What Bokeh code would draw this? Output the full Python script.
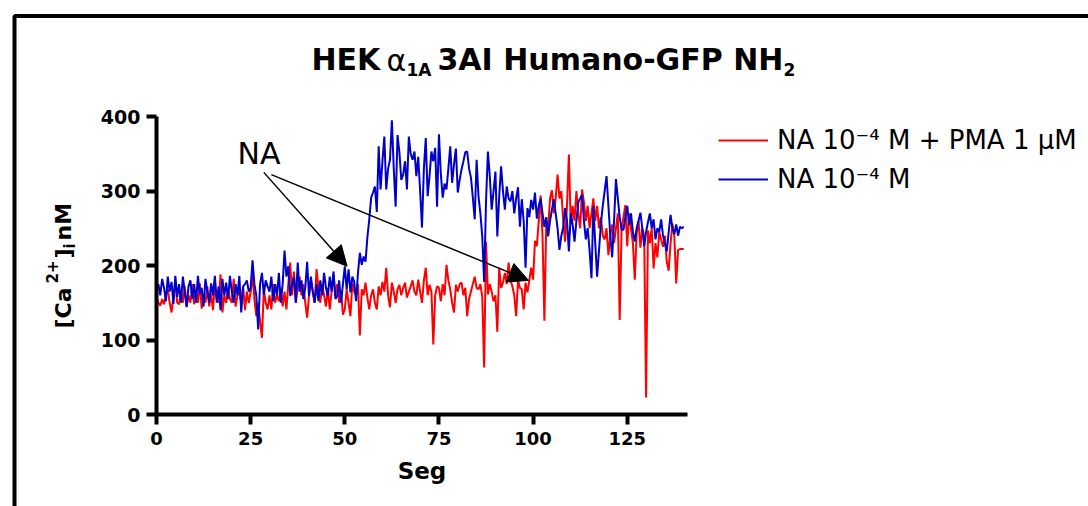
import numpy as np
from bokeh.plotting import figure
from bokeh.models import (Range1d, Label, Legend, LegendItem, Arrow, NormalHead,
                          BoxAnnotation, FixedTicker, ColumnDataSource)
from bokeh.embed import file_html
from bokeh.resources import INLINE

# ---------------- data ----------------
seg = [i * 0.5 for i in range(281)]  # 0 .. 140 s

na_pma = [  # NA 10^-4 M + PMA 1 uM (red)
    158,150,146,155,148,160,168,150,137,160,178,150,148,165,150,172,145,160,150,175,
    148,165,150,176,142,160,150,172,145,162,140,178,155,150,188,137,160,150,170,155,
    150,182,145,160,165,150,172,140,165,150,164,188,155,132,150,125,103,168,150,141,
    160,141,175,150,160,152,170,145,165,141,175,204,160,192,150,170,185,160,175,150,
    130,160,178,165,150,195,170,150,175,160,145,170,141,165,188,160,175,150,165,134,
    141,168,150,132,177,165,160,175,106,168,160,177,157,141,160,168,150,141,172,160,
    178,165,197,160,144,177,165,150,168,174,160,170,177,157,165,172,180,165,160,181,
    165,150,180,197,160,174,165,94,160,172,170,152,175,160,201,180,168,150,137,174,
    165,175,177,160,170,132,155,165,175,185,170,168,175,158,63,232,161,175,165,152,
    160,111,197,170,177,190,175,204,180,172,160,132,181,170,168,141,177,164,180,197,
    181,233,226,260,294,240,126,259,250,290,301,270,290,322,290,300,260,232,280,349,
    255,280,260,300,270,250,302,285,260,280,250,270,290,260,280,250,265,240,235,250,
    214,240,255,230,250,270,127,250,265,281,226,270,250,230,181,243,260,224,250,240,
    23,247,230,250,196,230,211,245,235,225,240,205,193,230,256,240,176,221,222,222,222,
]

na_only = [  # NA 10^-4 M (blue)
    168,175,160,182,170,152,185,165,178,148,186,158,175,150,185,165,144,172,180,155,
    175,150,186,162,170,145,182,165,150,176,160,186,150,172,140,182,160,177,155,186,
    165,150,175,160,186,137,172,175,180,165,170,207,175,160,114,175,190,161,180,172,
    165,185,152,175,160,190,150,175,220,185,199,159,175,185,150,204,165,180,155,170,
    205,159,185,165,150,175,152,180,160,190,170,159,185,165,192,155,159,180,150,175,
    199,168,195,164,185,178,152,190,217,201,212,205,238,262,291,298,306,272,360,302,
    340,373,302,330,342,395,330,279,375,352,315,322,340,302,373,350,342,353,320,346,
    300,251,330,371,293,320,353,340,358,279,376,323,291,310,302,330,360,311,336,357,
    298,315,329,340,352,353,330,318,291,262,342,293,270,239,178,286,353,320,275,300,
    326,239,293,333,300,275,306,290,286,300,270,290,305,252,289,260,197,277,265,288,
    275,298,263,280,290,270,252,265,239,260,275,289,270,250,221,240,251,277,260,219,
    270,255,232,260,285,290,295,260,235,250,220,183,279,230,185,220,256,280,300,320,
    280,240,211,260,316,290,265,248,248,265,280,255,270,245,232,250,260,271,250,226,
    245,258,270,250,262,235,250,245,262,240,230,219,245,268,250,242,255,240,252,250,252,
]

series_labels = ["NA 10\u207b\u2074 M + PMA 1 \u03bcM", "NA 10\u207b\u2074 M"]
x_ticks = [0, 25, 50, 75, 100, 125]
y_ticks = [0, 100, 200, 300, 400]
x_axis_end = 141
y_axis_end = 400

# NA application markers (annotation arrows)
arrow_x_start = [28.5, 30.5]
arrow_y_start = [325, 322]
arrow_x_end = [50.6, 98.8]
arrow_y_end = [199, 180]

# ---------------- layout constants (pixels) ----------------
W, H = 1088, 506
AX_LEFT, AX_RIGHT = 156, 687      # pixel of x=0 and x=141
AX_BOTTOM, AX_TOP = 414, 116      # pixel of y=0 and y=400
sx = (AX_RIGHT - AX_LEFT) / x_axis_end
sy = (AX_BOTTOM - AX_TOP) / y_axis_end
x_lo, x_hi = -AX_LEFT / sx, (W - AX_LEFT) / sx
y_lo, y_hi = -(H - AX_BOTTOM) / sy, AX_BOTTOM / sy

BOLD = "DejaVu Sans"

p = figure(width=W, height=H, output_backend="svg", toolbar_location=None,
           x_range=Range1d(x_lo, x_hi), y_range=Range1d(y_lo, y_hi),
           min_border=0)
p.title = None
p.grid.visible = False
p.outline_line_color = None
p.background_fill_color = "white"
p.border_fill_color = "white"

r_red = p.line(seg, na_pma, line_color="#FF0000", line_width=2)
r_blue = p.line(seg, na_only, line_color="#0000CC", line_width=2)

for ax in (p.xaxis[0], p.yaxis[0]):
    ax.fixed_location = 0
    ax.axis_line_width = 4
    ax.axis_line_color = "black"
    ax.major_tick_line_width = 4
    ax.major_tick_line_color = "black"
    ax.major_tick_out = 10
    ax.major_tick_in = 0
    ax.minor_tick_line_color = None
    ax.major_label_text_font = BOLD
    ax.major_label_text_font_style = "bold"
    ax.major_label_text_color = "black"

p.xaxis.bounds = (0, x_axis_end)
p.yaxis.bounds = (0, y_axis_end)
p.xaxis.ticker = FixedTicker(ticks=x_ticks)
p.yaxis.ticker = FixedTicker(ticks=y_ticks)
p.xaxis.major_label_text_font_size = "18px"
p.yaxis.major_label_text_font_size = "19px"
p.xaxis.major_label_standoff = 7
p.yaxis.major_label_standoff = 6
p.xaxis.axis_label = "Seg"
p.xaxis.axis_label_text_font = BOLD
p.xaxis.axis_label_text_font_style = "bold"
p.xaxis.axis_label_text_font_size = "23px"
p.xaxis.axis_label_standoff = 10
p.xaxis.axis_label_text_color = "black"


def lab(text, x, y, size, style="bold", angle=0.0, font=BOLD):
    # x, y: pixels from the left / from the bottom of the canvas
    p.add_layout(Label(x=x, y=y, x_units="screen", y_units="screen", text=text,
                       text_font=font, text_font_size=size, text_font_style=style,
                       text_color="black", angle=angle, text_baseline="alphabetic",
                       text_align="left"))


# y axis label composed: [Ca 2+]i nM (rotated)
a90 = np.pi / 2
lab("[Ca", 63, H - 328, "22px", angle=a90)
lab("2+", 51, H - 283, "15px", angle=a90)
lab("]", 63, H - 258, "22px", angle=a90)
lab("i", 69, H - 248, "15px", angle=a90)
lab("nM", 63, H - 240, "22px", angle=a90)

# title composed: HEK α1A 3AI Humano-GFP NH2
lab("HEK", 311, H - 59, "30px")
lab("\u03b1", 386, H - 60, "30px", style="normal")
lab("1A", 406, H - 69, "17px")
lab("3AI Humano-GFP NH", 437, H - 59, "30px")
lab("2", 783, H - 69, "17px")

# NA annotation
p.add_layout(Label(x=21.5, y=351, text="NA", text_font="DejaVu Sans",
                   text_font_size="30px", text_color="black",
                   text_baseline="alphabetic"))
arrow_src = ColumnDataSource(dict(x0=arrow_x_start, y0=arrow_y_start,
                                  x1=arrow_x_end, y1=arrow_y_end))
p.add_layout(Arrow(end=NormalHead(size=20, fill_color="black", line_color="black"),
                   x_start="x0", y_start="y0", x_end="x1", y_end="y1",
                   source=arrow_src, line_color="black", line_width=1.5))

# legend
legend = Legend(items=[LegendItem(label=series_labels[0], renderers=[r_red]),
                       LegendItem(label=series_labels[1], renderers=[r_blue])],
                location=(718, H - 143 - 14 - 37), padding=0, margin=0, spacing=9,
                glyph_width=50, glyph_height=28, label_height=28, label_standoff=9,
                label_text_font="DejaVu Sans", label_text_font_size="26px",
                label_text_color="black",
                border_line_alpha=0, background_fill_alpha=0)
p.add_layout(legend)

# outer frame (thick black border at left and top)
p.add_layout(BoxAnnotation(left=14, right=3000, top=H - 15.5, bottom=-3000,
                           left_units="screen", right_units="screen",
                           top_units="screen", bottom_units="screen",
                           fill_alpha=0, line_color="black", line_width=4,
                           line_alpha=1))

open("out.html", "w").write(file_html(p, INLINE))
